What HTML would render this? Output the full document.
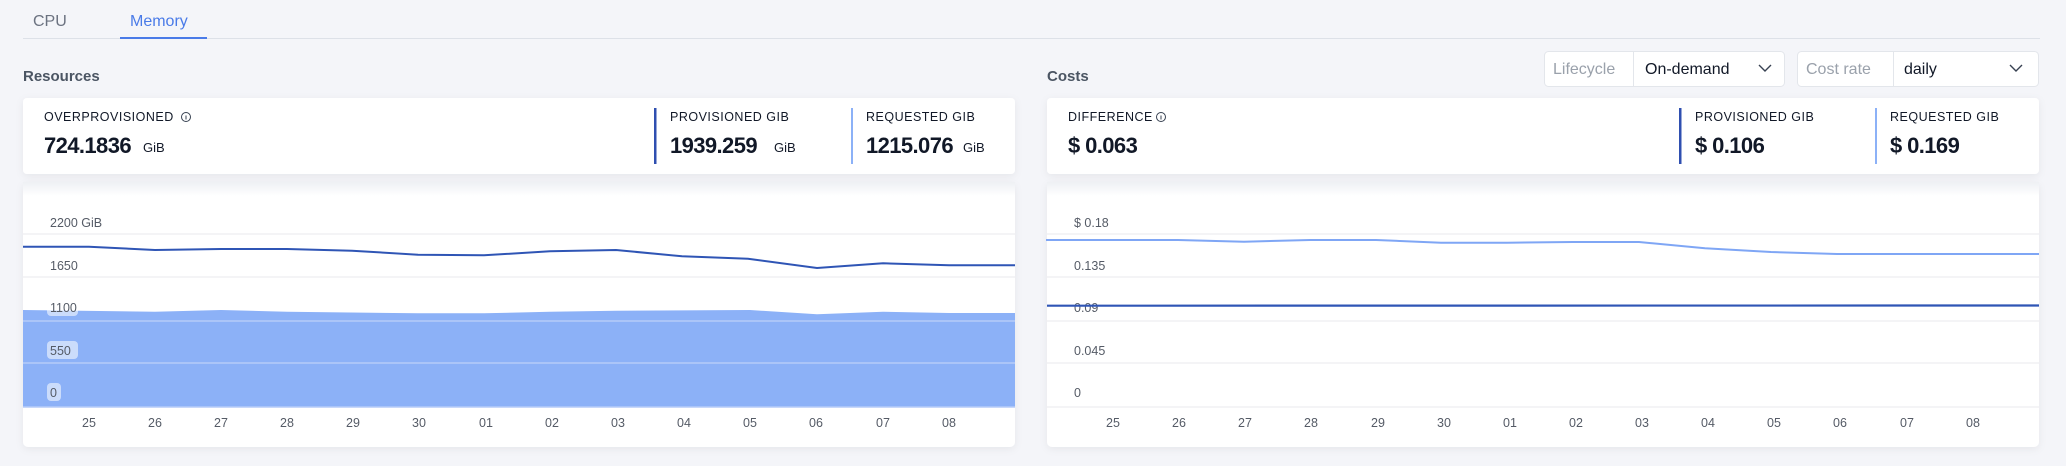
<!DOCTYPE html>
<html><head><meta charset="utf-8"><style>
html,body{margin:0;padding:0;width:2066px;height:466px;background:#f4f5f9;overflow:hidden}
svg{display:block}
text{font-family:"Liberation Sans",sans-serif}
</style></head><body>
<svg width="2066" height="466" viewBox="0 0 2066 466" xmlns="http://www.w3.org/2000/svg">
<defs>
<filter id="sh" x="-5%" y="-20%" width="110%" height="140%"><feDropShadow dx="0" dy="2" stdDeviation="4" flood-color="#000" flood-opacity="0.06"/></filter>
<linearGradient id="fade" x1="0" y1="0" x2="0" y2="1"><stop offset="0" stop-color="#eef0f4"/><stop offset="1" stop-color="#ffffff"/></linearGradient>
</defs>
<rect width="2066" height="466" fill="#f4f5f9"/>
<text x="33" y="26" font-size="16" fill="#6b7280">CPU</text>
<text x="130" y="26" font-size="16" fill="#4a7be8">Memory</text>
<line x1="23" y1="38.5" x2="2040" y2="38.5" stroke="#dde1e8" stroke-width="1"/>
<rect x="120" y="37" width="87" height="2" fill="#4a7be8"/>
<text x="23" y="81" font-size="15" font-weight="bold" fill="#4b5563">Resources</text>
<text x="1047" y="81" font-size="15" font-weight="bold" fill="#4b5563">Costs</text>
<rect x="1544.5" y="51.5" width="240" height="35" rx="4" fill="#fff" stroke="#e3e6eb"/>
<line x1="1633.5" y1="52" x2="1633.5" y2="86" stroke="#e3e6eb"/>
<text x="1553" y="74" font-size="16" fill="#9aa1ab">Lifecycle</text>
<text x="1645" y="74" font-size="16" fill="#111827">On-demand</text>
<path d="M1759 65 l6 6 l6 -6" fill="none" stroke="#374151" stroke-width="1.4"/>
<rect x="1797.5" y="51.5" width="241" height="35" rx="4" fill="#fff" stroke="#e3e6eb"/>
<line x1="1893.5" y1="52" x2="1893.5" y2="86" stroke="#e3e6eb"/>
<text x="1806" y="74" font-size="16" fill="#9aa1ab">Cost rate</text>
<text x="1904" y="74" font-size="16" fill="#111827">daily</text>
<path d="M2010 65 l6 6 l6 -6" fill="none" stroke="#374151" stroke-width="1.4"/>
<rect x="23" y="98" width="992" height="76" rx="4" fill="#fff" filter="url(#sh)"/>
<rect x="1047" y="98" width="992" height="76" rx="4" fill="#fff" filter="url(#sh)"/>
<g font-size="22" font-weight="bold" fill="#111827" letter-spacing="-0.6">
<text x="44" y="153">724.1836</text>
<text x="670" y="153">1939.259</text>
<text x="866" y="153">1215.076</text>
<text x="1068" y="153">$ 0.063</text>
<text x="1695" y="153">$ 0.106</text>
<text x="1890" y="153">$ 0.169</text>
</g>
<text x="44" y="121" font-size="12.5" fill="#111827" letter-spacing="0.5">OVERPROVISIONED</text>
<circle cx="186" cy="117" r="4.5" fill="none" stroke="#374151" stroke-width="1"/><line x1="186" y1="115.5" x2="186" y2="119.5" stroke="#374151"/>
<text x="143" y="152" font-size="13" fill="#111827">GiB</text>
<rect x="654" y="108" width="2.5" height="56" fill="#2f4fb0"/>
<text x="670" y="121" font-size="12.5" fill="#111827" letter-spacing="0.5">PROVISIONED GIB</text>
<text x="774" y="152" font-size="13" fill="#111827">GiB</text>
<rect x="851" y="108" width="2" height="56" fill="#8cb1f7"/>
<text x="866" y="121" font-size="12.5" fill="#111827" letter-spacing="0.5">REQUESTED GIB</text>
<text x="963" y="152" font-size="13" fill="#111827">GiB</text>
<text x="1068" y="121" font-size="12.5" fill="#111827" letter-spacing="0.5">DIFFERENCE</text>
<circle cx="1161" cy="117" r="4.5" fill="none" stroke="#374151" stroke-width="1"/><line x1="1161" y1="115.5" x2="1161" y2="119.5" stroke="#374151"/>
<rect x="1679" y="108" width="2.5" height="56" fill="#2f4fb0"/>
<text x="1695" y="121" font-size="12.5" fill="#111827" letter-spacing="0.5">PROVISIONED GIB</text>
<rect x="1875" y="108" width="2" height="56" fill="#8cb1f7"/>
<text x="1890" y="121" font-size="12.5" fill="#111827" letter-spacing="0.5">REQUESTED GIB</text>
<rect x="23" y="182" width="992" height="265" rx="5" fill="#fff" filter="url(#sh)"/>
<rect x="1047" y="182" width="992" height="265" rx="5" fill="#fff" filter="url(#sh)"/>
<rect x="23" y="182" width="992" height="14" fill="url(#fade)"/>
<rect x="1047" y="182" width="992" height="14" fill="url(#fade)"/>
<g font-size="12.5" fill="#555b66">
<polygon fill="#8cb1f7" points="23,310 155,311.7 221,310 287,311.7 418,313.3 484,313.3 550,311.7 616,310.7 750,310 817,314.3 883,311.7 949,313 1015,313 1015,407 23,407"/>
<g stroke="#f0f1f4" stroke-width="1.5"><line x1="23" y1="234" x2="1015" y2="234"/><line x1="23" y1="277" x2="1015" y2="277"/></g>
<g stroke="#b5ccf9" stroke-width="1.5"><line x1="23" y1="321" x2="1015" y2="321"/><line x1="23" y1="363" x2="1015" y2="363"/><line x1="23" y1="407" x2="1015" y2="407"/></g>
<polyline fill="none" stroke="#2f55b5" stroke-width="2" points="23,246.7 89,246.7 155,250 221,249 287,249 352,250.7 418,254.7 484,255.3 550,251.3 616,250 682,256.3 748,258.7 817,268 883,263.3 949,265.3 1015,265.3"/>
<rect x="47" y="298" width="31" height="18" rx="4" fill="#fff" fill-opacity="0.55"/>
<rect x="47" y="341" width="31" height="18" rx="4" fill="#fff" fill-opacity="0.55"/>
<rect x="47" y="383" width="14" height="18" rx="4" fill="#fff" fill-opacity="0.55"/>
<text x="50" y="227">2200 GiB</text>
<text x="50" y="270">1650</text>
<text x="50" y="312">1100</text>
<text x="50" y="355">550</text>
<text x="50" y="397">0</text>
<g text-anchor="middle">
<text x="89" y="427">25</text><text x="155" y="427">26</text><text x="221" y="427">27</text><text x="287" y="427">28</text><text x="353" y="427">29</text><text x="419" y="427">30</text><text x="486" y="427">01</text><text x="552" y="427">02</text><text x="618" y="427">03</text><text x="684" y="427">04</text><text x="750" y="427">05</text><text x="816" y="427">06</text><text x="883" y="427">07</text><text x="949" y="427">08</text>
</g>
</g>
<g font-size="12.5" fill="#555b66">
<g stroke="#f0f1f4" stroke-width="1.5"><line x1="1047" y1="234" x2="2039" y2="234"/><line x1="1047" y1="277" x2="2039" y2="277"/><line x1="1047" y1="321" x2="2039" y2="321"/><line x1="1047" y1="363" x2="2039" y2="363"/><line x1="1047" y1="407" x2="2039" y2="407"/></g>
<text x="1074" y="227">$ 0.18</text>
<text x="1074" y="270">0.135</text>
<text x="1074" y="312">0.09</text>
<text x="1074" y="355">0.045</text>
<text x="1074" y="397">0</text>
<polyline fill="none" stroke="#7fa6f5" stroke-width="2" points="1046,240 1178,240 1244,241.7 1310,240 1376,240 1441,242.7 1507,242.7 1573,242 1639,242 1705,248.3 1771,252 1837,254 2039,254"/>
<line x1="1047" y1="305.7" x2="2039" y2="305.5" stroke="#2f55b5" stroke-width="2.2"/>
<g text-anchor="middle">
<text x="1113" y="427">25</text><text x="1179" y="427">26</text><text x="1245" y="427">27</text><text x="1311" y="427">28</text><text x="1378" y="427">29</text><text x="1444" y="427">30</text><text x="1510" y="427">01</text><text x="1576" y="427">02</text><text x="1642" y="427">03</text><text x="1708" y="427">04</text><text x="1774" y="427">05</text><text x="1840" y="427">06</text><text x="1907" y="427">07</text><text x="1973" y="427">08</text>
</g>
</g>
</svg>
</body></html>
